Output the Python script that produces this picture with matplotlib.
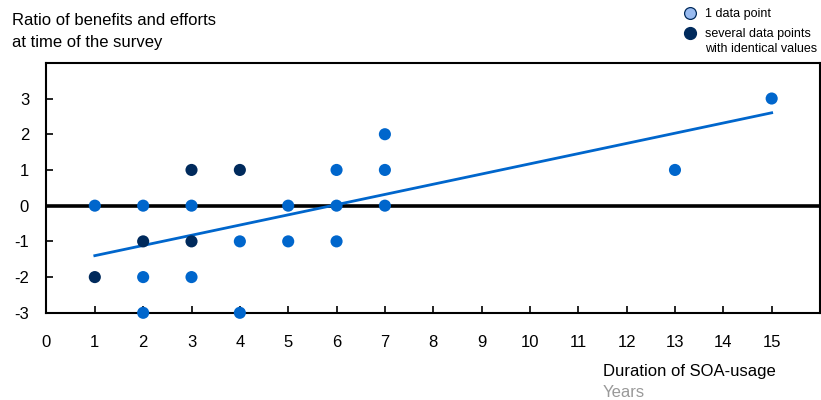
import numpy as np
import matplotlib.pyplot as plt
from matplotlib.lines import Line2D

plt.rcParams['font.family'] = ['Liberation Sans', 'DejaVu Sans']
plt.rcParams['axes.unicode_minus'] = False

# single data points
single_x = [1, 2, 2, 2, 3, 3, 4, 4, 5, 5, 6, 6, 6, 7, 7, 7, 13, 15]
single_y = [0, 0, -2, -3, 0, -2, -1, -3, 0, -1, 1, 0, -1, 2, 1, 0, 1, 3]
# several data points with identical values
multi_x = [1, 2, 3, 3, 4]
multi_y = [-2, -1, 1, -1, 1]
# trend line
trend_x = [1, 15]
trend_y = [-1.4, 2.6]

blue = '#0066cc'
navy = '#002a5c'
light = '#99bbf0'

W, H = 821, 400
fig = plt.figure(figsize=(W / 100, H / 100), dpi=100)
ax = fig.add_axes([0.0566, 0.218, 0.9422, 0.625])

ax.axhline(0, color='black', lw=2.6, zorder=1)
ax.plot(trend_x, trend_y, color=blue, lw=2, zorder=2)
ax.scatter(single_x, single_y, s=76, color=blue, edgecolors='none', zorder=3, clip_on=False)
ax.scatter(multi_x, multi_y, s=76, color=navy, edgecolors='none', zorder=3, clip_on=False)

ax.set_xlim(0, 16)
ax.set_ylim(-3, 4)
ax.set_xticks(range(0, 16))
ax.set_yticks(range(-3, 4))
ax.tick_params(direction='in', length=5, width=1.2, labelsize=12, color='black')
ax.tick_params(axis='x', pad=16)
ax.tick_params(axis='y', pad=12.5)
for s in ax.spines.values():
    s.set_linewidth(1.5)

def px(x, y):
    return x / W, 1 - y / H

# title, two lines placed by baseline
fig.text(*px(12, 25), 'Ratio of benefits and efforts', fontsize=12, va='baseline')
fig.text(*px(12, 47), 'at time of the survey', fontsize=12, va='baseline')

# axis caption
fig.text(*px(603, 376), 'Duration of SOA-usage', fontsize=12, va='baseline')
fig.text(*px(603, 397), 'Years', fontsize=12, va='baseline', color='#999999')

# legend drawn by hand
fig.add_artist(Line2D([690 / W], [1 - 13 / H], transform=fig.transFigure, marker='o',
                      markersize=8.5, markerfacecolor=light, markeredgecolor=navy,
                      markeredgewidth=0.9, ls='none'))
fig.add_artist(Line2D([690 / W], [1 - 33 / H], transform=fig.transFigure, marker='o',
                      markersize=8.5, markerfacecolor=navy, markeredgecolor=navy, ls='none'))
fig.text(*px(705, 17), '1 data point', fontsize=9, va='baseline')
fig.text(*px(705, 37), 'several data points', fontsize=9, va='baseline')
fig.text(*px(705, 52), 'with identical values', fontsize=9, va='baseline')

fig.savefig('out.png', dpi=100)
